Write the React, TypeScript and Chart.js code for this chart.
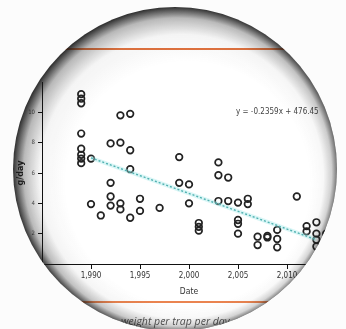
import React, { useEffect, useRef } from "react";
import { Chart, registerables } from "chart.js";
Chart.register(...registerables);

const W = 346;
const H = 329;

const years = [
  1989, 1989, 1989, 1989, 1989, 1989, 1989, 1989,
  1990, 1990, 1991,
  1992, 1992, 1992, 1992,
  1993, 1993, 1993, 1993,
  1994, 1994, 1994, 1994,
  1995, 1995, 1997,
  1999, 1999, 2000, 2000,
  2001, 2001, 2001,
  2003, 2003, 2003, 2004, 2004,
  2005, 2005, 2005, 2005,
  2006, 2006, 2007, 2007, 2008, 2008,
  2009, 2009, 2009, 2011,
  2012, 2012, 2013, 2013, 2013, 2013, 2014,
];
const values = [
  11.2, 10.9, 10.6, 8.6, 7.6, 7.2, 6.95, 6.65,
  6.95, 3.95, 3.2,
  7.95, 5.35, 4.45, 3.85,
  9.8, 8.0, 4.0, 3.6,
  9.9, 7.5, 6.25, 3.05,
  4.3, 3.5, 3.7,
  7.05, 5.35, 5.25, 4.0,
  2.7, 2.45, 2.2,
  6.7, 5.85, 4.15, 5.7, 4.15,
  4.05, 2.9, 2.65, 2.0,
  4.3, 3.95, 1.8, 1.25, 1.85, 1.75,
  2.25, 1.65, 1.1, 4.45,
  2.5, 2.15, 2.75, 2.0, 1.6, 1.15, 2.0,
];
const trendYears = [1990, 2013];
const trendValues = [7.0, 1.6];
const xTicks = [1990, 1995, 2000, 2005, 2010];
const yTicks = [2, 4, 6, 8, 10];
const equationLabel = "y = -0.2359x + 476.45";
const xTitle = "Date";
const yTitle = "g/day";
const captionText = "weight per trap per day";

const FONT = "'DejaVu Sans Condensed', 'Liberation Sans Narrow', 'Liberation Sans', sans-serif";

const backgroundPlugin = {
  id: "bg",
  beforeDraw(chart: any) {
    const ctx = chart.ctx;
    ctx.save();
    ctx.fillStyle = "#ffffff";
    ctx.fillRect(0, 0, chart.width, chart.height);
    ctx.restore();
  },
};

const decorPlugin = {
  id: "decor",
  afterDraw(chart: any) {
    const ctx = chart.ctx;
    ctx.save();
    ctx.strokeStyle = "#e2733f";
    ctx.lineWidth = 2;
    ctx.beginPath();
    ctx.moveTo(0, 49);
    ctx.lineTo(W, 49);
    ctx.stroke();
    ctx.strokeStyle = "#ea8450";
    ctx.beginPath();
    ctx.moveTo(0, 302);
    ctx.lineTo(W, 302);
    ctx.stroke();

    ctx.fillStyle = "#444";
    ctx.font = `8px ${FONT}`;
    ctx.textBaseline = "middle";
    ctx.textAlign = "left";
    ctx.fillText(equationLabel, 236, 112);

    ctx.font = `italic 10.5px 'Open Sans', sans-serif`;
    ctx.fillStyle = "#555";
    ctx.fillText(captionText, 121, 322);
    ctx.restore();
  },
};

const lensPlugin = {
  id: "lens",
  afterDraw(chart: any) {
    const ctx = chart.ctx;
    const cx = 175, cy = 169, r = 162;
    // ring shading on an offscreen canvas
    const off = document.createElement("canvas");
    off.width = W;
    off.height = H;
    const o = off.getContext("2d") as CanvasRenderingContext2D;
    o.beginPath();
    o.arc(cx, cy, r, 0, Math.PI * 2);
    o.clip();
    const g = o.createRadialGradient(188, 184, 122, cx, cy, r);
    g.addColorStop(0, "rgba(25,25,25,0)");
    g.addColorStop(0.5, "rgba(25,25,25,0.05)");
    g.addColorStop(0.8, "rgba(25,25,25,0.32)");
    g.addColorStop(1, "rgba(25,25,25,0.95)");
    o.fillStyle = g;
    o.fillRect(0, 0, W, H);
    // fade shading toward bottom-right
    o.globalCompositeOperation = "destination-in";
    const lg = o.createLinearGradient(20, 20, 320, 320);
    lg.addColorStop(0, "rgba(0,0,0,1)");
    lg.addColorStop(0.45, "rgba(0,0,0,0.9)");
    lg.addColorStop(1, "rgba(0,0,0,0.45)");
    o.fillStyle = lg;
    o.fillRect(0, 0, W, H);

    ctx.save();
    ctx.beginPath();
    ctx.rect(0, 0, W, H);
    ctx.arc(cx, cy, r, 0, Math.PI * 2, true);
    ctx.fillStyle = "#fcfcfc";
    ctx.fill("evenodd");
    ctx.drawImage(off, 0, 0);
    ctx.restore();
  },
};

export default function App() {
  const ref = useRef<HTMLCanvasElement | null>(null);
  useEffect(() => {
    document.body.style.margin = "0";
    if (!ref.current) return;
    const points = years.map((x, i) => ({ x, y: values[i] }));
    const trend = trendYears.map((x, i) => ({ x, y: trendValues[i] }));
    const chart = new Chart(ref.current, {
      type: "scatter",
      data: {
        datasets: [
          {
            data: trend,
            showLine: true,
            borderColor: "rgba(160,232,232,0.4)",
            borderWidth: 4,
            pointRadius: 0,
          },
          {
            data: trend,
            showLine: true,
            borderColor: "#1e8c8c",
            borderWidth: 1.4,
            borderDash: [2, 2],
            pointRadius: 0,
          },
          {
            data: points,
            pointRadius: 3.3,
            borderWidth: 1.7,
            borderColor: "#222",
            backgroundColor: "rgba(255,255,255,0)",
          },
        ],
      } as any,
      options: {
        responsive: false,
        animation: false,
        layout: { padding: { left: 15, top: 82, right: 10, bottom: 32 } },
        plugins: { legend: { display: false }, tooltip: { enabled: false } },
        scales: {
          x: {
            type: "linear",
            min: 1985,
            max: 2015,
            afterBuildTicks: (s: any) => {
              s.ticks = xTicks.map((v) => ({ value: v }));
            },
            afterFit: (s: any) => {
              s.height = 33;
            },
            grid: { drawOnChartArea: false, drawTicks: true, tickLength: 5, color: "#111" },
            border: { display: true, color: "#111", width: 1 },
            ticks: { color: "#333", font: { size: 8, family: FONT }, padding: 2, autoSkip: false, maxRotation: 0 },
            title: { display: true, text: xTitle, color: "#333", font: { size: 8.5, family: FONT }, padding: 0 },
          },
          y: {
            type: "linear",
            min: 0,
            max: 12,
            afterBuildTicks: (s: any) => {
              s.ticks = yTicks.map((v) => ({ value: v }));
            },
            afterFit: (s: any) => {
              s.width = 27;
            },
            grid: { drawOnChartArea: false, drawTicks: true, tickLength: 4, color: "#111" },
            border: { display: true, color: "#111", width: 1 },
            ticks: { color: "#555", font: { size: 6, family: FONT }, padding: 3 },
            title: { display: true, text: yTitle, color: "#222", font: { size: 9, family: FONT, weight: "bold" }, padding: 0 },
          },
        },
      } as any,
      plugins: [backgroundPlugin, decorPlugin, lensPlugin],
    });
    return () => chart.destroy();
  }, []);
  return (
    <div style={{ position: "fixed", left: 0, top: 0, width: W, height: H }}>
      <canvas ref={ref} width={W} height={H} style={{ width: W, height: H, display: "block" }} />
    </div>
  );
}
